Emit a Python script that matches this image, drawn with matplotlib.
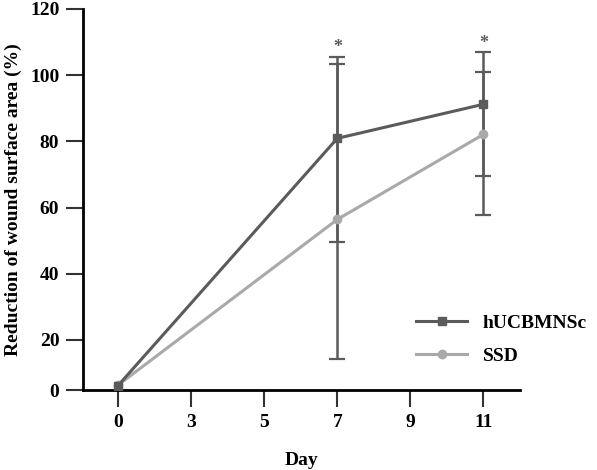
import numpy as np
import matplotlib
matplotlib.use("Agg")
import matplotlib.pyplot as plt

# ---- datos ----
days = ["0", "3", "5", "7", "9", "11"]
day_idx = [0, 3, 5]               # posiciones de los dias medidos (0, 7, 11)
hucb = [1.8, 80.9, 91.2]
ssd = [2.0, 56.4, 82.1]
# barras de error solo en dia 7 y 11
err_idx = [3, 5]
hucb_mid = [80.9, 91.2]
hucb_low = [49.6, 69.4]
hucb_high = [103.4, 100.9]
ssd_mid = [56.4, 82.1]
ssd_low = [12.4, 57.8]
ssd_high = [105.6, 106.9]
star_val = [105.6, 106.9]
yticks = [0, 20, 40, 60, 80, 100, 120]

dark = "#5b5b5b"
light = "#a9a9a9"

plt.rcParams["font.family"] = ["Liberation Serif", "DejaVu Serif"]
plt.rcParams["font.weight"] = "bold"

# eje y comprimido entre 0 y 20 (como en la figura original)
k = 50 / 66
def fwd(y):
    y = np.asarray(y, dtype=float)
    return np.where(y < 20, y * k, y - 20 + 20 * k)

def inv(u):
    u = np.asarray(u, dtype=float)
    return np.where(u < 20 * k, u / k, u + 20 - 20 * k)

fig = plt.figure(figsize=(5.97, 4.70), dpi=100)
ax = fig.add_axes([0.139, 0.170, 0.732, 0.811])
ax.set_yscale("function", functions=(fwd, inv))

ax.errorbar(err_idx, hucb_mid,
            yerr=[np.subtract(hucb_mid, hucb_low), np.subtract(hucb_high, hucb_mid)],
            fmt="none", ecolor=dark, elinewidth=1.8, capsize=6, capthick=1.6, zorder=1)
ax.errorbar(err_idx, ssd_mid,
            yerr=[np.subtract(ssd_mid, ssd_low), np.subtract(ssd_high, ssd_mid)],
            fmt="none", ecolor=dark, elinewidth=1.8, capsize=6, capthick=1.6, zorder=1)

ax.plot(day_idx, ssd, color=light, lw=2.2, marker="o", ms=6, label="SSD", zorder=2)
ax.plot(day_idx, hucb, color=dark, lw=2.2, marker="s", ms=6, label="hUCBMNSc", zorder=3)

for xi, yv in zip(err_idx, star_val):
    ax.annotate("*", (xi, yv), xytext=(0, 0.5), textcoords="offset points",
                ha="center", va="bottom", fontsize=13, color=dark)

ax.set_xlim(-0.48, 5.5)
ax.set_ylim(0, 120)
ax.set_xticks(range(len(days)))
ax.set_xticklabels(days)
ax.set_yticks(yticks)
ax.set_yticklabels([str(t) for t in yticks])
ax.minorticks_off()

for s in ["top", "right"]:
    ax.spines[s].set_visible(False)
for s in ["left", "bottom"]:
    ax.spines[s].set_linewidth(2.0)
ax.tick_params(axis="both", direction="out", length=12, width=1.5, color="#333333",
               labelsize=14, pad=5)

ax.set_ylabel("Reduction of wound surface area (%)", fontsize=14, fontweight="bold", labelpad=6)
ax.set_xlabel("Day", fontsize=14, fontweight="bold", labelpad=15)

h, l = ax.get_legend_handles_labels()
ax.legend(h[::-1], l[::-1], loc="upper left", bbox_to_anchor=(0.745, 0.22),
          frameon=False, fontsize=14, handlelength=2.6, handletextpad=0.8,
          labelspacing=0.8, borderaxespad=0)

fig.savefig("out.png", dpi=100)
